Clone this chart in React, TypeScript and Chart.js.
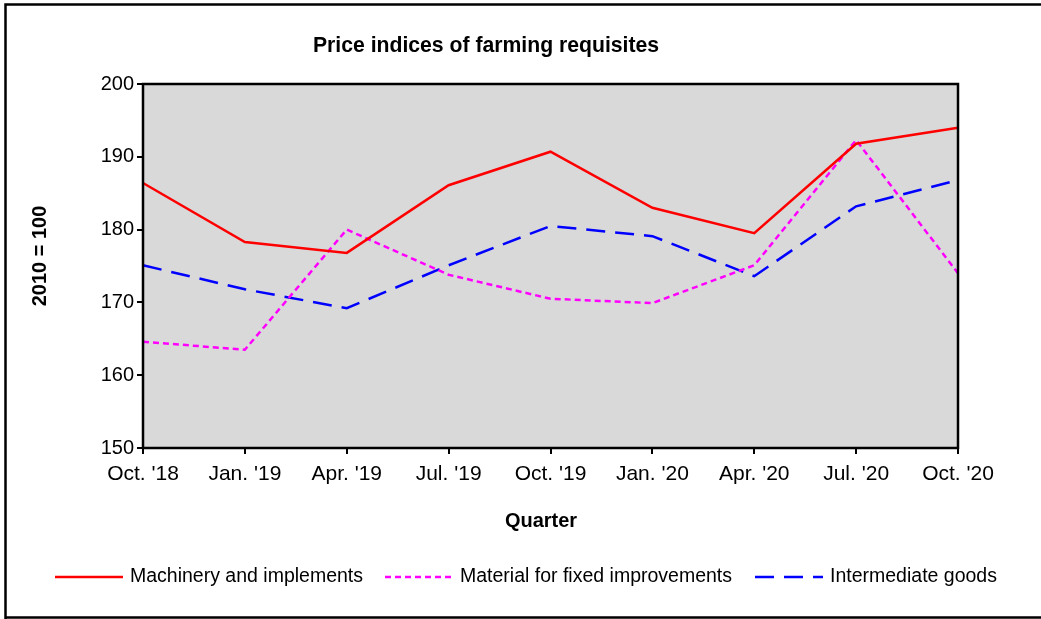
import React, { useEffect, useRef } from "react";
import { Chart, registerables } from "chart.js";

Chart.register(...registerables);

const categories = ["Oct. '18", "Jan. '19", "Apr. '19", "Jul. '19", "Oct. '19", "Jan. '20", "Apr. '20", "Jul. '20", "Oct. '20"];
const machinery = [186.4, 178.3, 176.8, 186.1, 190.7, 183.0, 179.5, 191.8, 194.0];
const material = [164.6, 163.5, 180.0, 173.8, 170.5, 169.9, 175.1, 192.3, 174.0];
const intermediate = [175.1, 171.8, 169.2, 175.1, 180.5, 179.1, 173.6, 183.2, 186.8];

const chartTitle = "Price indices of farming requisites";
const xTitle = "Quarter";
const yTitle = "2010 = 100";
const seriesNames = ["Machinery and implements", "Material for fixed improvements", "Intermediate goods"];

const FONT = "'Liberation Sans', Arial, Helvetica, sans-serif";

const decorPlugin = {
  id: "decor",
  beforeDraw(chart: any) {
    const { ctx, chartArea } = chart;
    ctx.save();
    ctx.fillStyle = "#ffffff";
    ctx.fillRect(0, 0, chart.width, chart.height);
    ctx.fillStyle = "#d9d9d9";
    ctx.fillRect(chartArea.left, chartArea.top, chartArea.right - chartArea.left, chartArea.bottom - chartArea.top);
    ctx.restore();
  },
  afterDraw(chart: any) {
    const { ctx, chartArea } = chart;
    ctx.save();
    // plot border
    ctx.strokeStyle = "#000";
    ctx.lineWidth = 2.5;
    ctx.setLineDash([]);
    ctx.strokeRect(chartArea.left, chartArea.top, chartArea.right - chartArea.left, chartArea.bottom - chartArea.top);
    // outer frame
    ctx.lineWidth = 2.5;
    ctx.beginPath();
    ctx.moveTo(5.5, 619);
    ctx.lineTo(5.5, 4.5);
    ctx.lineTo(1045, 4.5);
    ctx.moveTo(5.5, 617.5);
    ctx.lineTo(1045, 617.5);
    ctx.stroke();

    ctx.fillStyle = "#000";
    ctx.textAlign = "center";
    ctx.textBaseline = "middle";
    ctx.font = `bold 21.2px ${FONT}`;
    ctx.fillText(chartTitle, 486, 46);
    ctx.font = `bold 20px ${FONT}`;
    ctx.fillText(xTitle, 541, 521);
    ctx.save();
    ctx.translate(40, 256);
    ctx.rotate(-Math.PI / 2);
    ctx.fillText(yTitle, 0, 0);
    ctx.restore();

    // legend
    const items = chart.data.datasets.map((d: any, i: number) => ({
      label: d.label,
      color: d.borderColor,
      dash: d.borderDash || [],
      x: [55, 385, 755][i],
    }));
    ctx.font = `19.5px ${FONT}`;
    ctx.textAlign = "left";
    items.forEach((it: any) => {
      ctx.strokeStyle = it.color;
      ctx.lineWidth = 2.5;
      ctx.setLineDash(it.dash);
      ctx.beginPath();
      ctx.moveTo(it.x, 577);
      ctx.lineTo(it.x + 68, 577);
      ctx.stroke();
      ctx.setLineDash([]);
      ctx.fillStyle = "#000";
      ctx.fillText(it.label, it.x + 75, 577);
    });
    ctx.restore();
  },
};

export default function App() {
  const ref = useRef<HTMLCanvasElement>(null);
  useEffect(() => {
    if (!ref.current) return;
    const chart = new Chart(ref.current, {
      type: "line",
      data: {
        labels: categories,
        datasets: [
          { label: seriesNames[0], data: machinery, borderColor: "#ff0000", borderWidth: 2.5, pointRadius: 0, tension: 0, fill: false },
          { label: seriesNames[1], data: material, borderColor: "#ff00ff", borderWidth: 2.5, borderDash: [6, 4], pointRadius: 0, tension: 0, fill: false },
          { label: seriesNames[2], data: intermediate, borderColor: "#0000ff", borderWidth: 2.5, borderDash: [19, 10], pointRadius: 0, tension: 0, fill: false },
        ],
      },
      plugins: [decorPlugin],
      options: {
        responsive: false,
        animation: false,
        layout: { padding: { left: 0, top: 84, right: 83, bottom: 0 } },
        plugins: { legend: { display: false }, title: { display: false }, tooltip: { enabled: false } },
        scales: {
          x: {
            type: "category",
            offset: false,
            grid: { display: true, drawOnChartArea: false, drawTicks: true, tickLength: 6, color: "#000", lineWidth: 2 },
            border: { display: false },
            ticks: { color: "#000", font: { family: FONT, size: 21 }, padding: 8, maxRotation: 0, autoSkip: false },
            afterFit: (s: any) => { s.height = 171; },
          },
          y: {
            min: 150,
            max: 200,
            grid: { display: true, drawOnChartArea: false, drawTicks: true, tickLength: 6, color: "#000", lineWidth: 2 },
            border: { display: false },
            ticks: { stepSize: 10, color: "#000", font: { family: FONT, size: 20 }, padding: 3 },
            afterFit: (s: any) => { s.width = 143; },
          },
        },
      },
    });
    return () => chart.destroy();
  }, []);
  return (
    <div style={{ position: "absolute", left: 0, top: 0, width: 1041, height: 619 }}>
      <canvas ref={ref} width={1041} height={619} />
    </div>
  );
}
